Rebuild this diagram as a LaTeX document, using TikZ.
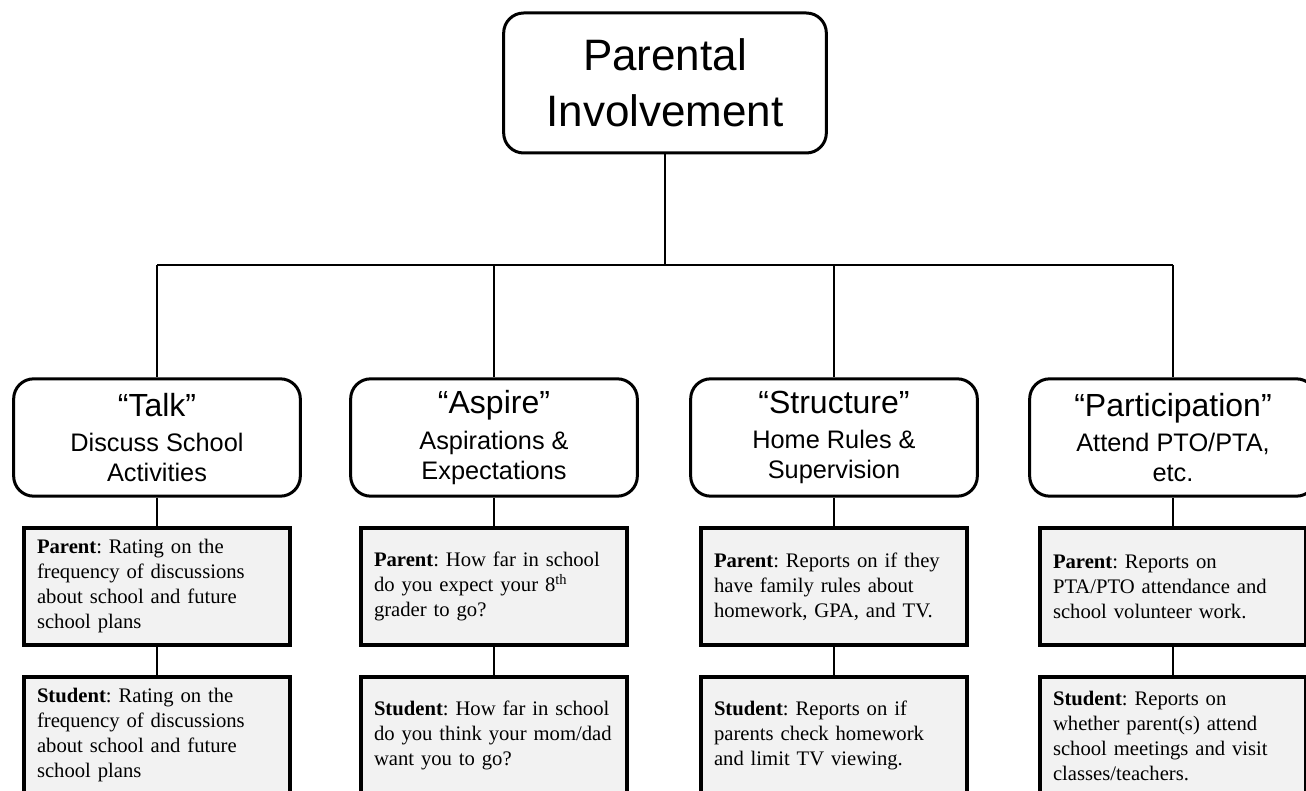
\documentclass[tikz,border=0pt]{standalone}
\usepackage{fontspec}
\setmainfont{Liberation Serif}[WordSpace=0.8]
\newfontfamily\headfont{Liberation Sans}
\definecolor{boxgray}{RGB}{242,242,242}
\frenchspacing
\tikzset{
  topbox/.style={draw, line width=2.25pt, rounded corners=15pt, minimum width=242pt, minimum height=105pt, align=center, font=\headfont\fontsize{33}{42}\selectfont},
  catbox/.style={draw, line width=2.25pt, rounded corners=15pt, minimum width=215pt, minimum height=88pt, align=center, font=\headfont\fontsize{19}{22.5}\selectfont},
  infobox/.style={draw, line width=3pt, fill=boxgray, text width=180pt, inner xsep=9.75pt, minimum height=88pt, align=left, font=\frenchspacing\fontsize{15.5}{18.75}\selectfont},
  link/.style={line width=1.5pt}
}
\newcommand{\cattitle}[1]{{\fontsize{24}{26}\selectfont #1}\\[4pt]}
\begin{document}
\begin{tikzpicture}[x=0.75pt, y=-0.75pt]
  \useasboundingbox (0,0) rectangle (1306,791);
  \clip (0,0) rectangle (1306,791);

  % Draw the top box
  \node[topbox] (top) at (665,83) {Parental\\Involvement};

  % Draw the four categories
  \node[catbox] (talk) at (157,437.5) {\cattitle{“Talk”}Discuss School\\Activities};
  \node[catbox] (aspire) at (494,437.5) {\cattitle{“Aspire”}Aspirations \&\\Expectations};
  \node[catbox] (structure) at (834,437.5) {\cattitle{“Structure”}Home Rules \&\\Supervision};
  \node[catbox] (particip) at (1173,437.5) {\cattitle{“Participation”}Attend PTO/PTA,\\etc.};

  % Parent boxes
  \node[infobox] (talkP) at (157,586.5) {\textbf{Parent}: Rating on the\\frequency of discussions\\about school and future\\school plans};
  \node[infobox] (aspireP) at (494,586.5) {\textbf{Parent}: How far in school\\do you expect your 8\textsuperscript{th}\\grader to go?};
  \node[infobox] (structureP) at (834,586.5) {\textbf{Parent}: Reports on if they\\have family rules about\\homework, GPA, and TV.};
  \node[infobox] (participP) at (1173,586.5) {\textbf{Parent}: Reports on\\PTA/PTO attendance and\\school volunteer work.};

  % Student boxes
  \node[infobox] (talkS) at (157,735.5) {\textbf{Student}: Rating on the\\frequency of discussions\\about school and future\\school plans};
  \node[infobox] (aspireS) at (494,735.5) {\textbf{Student}: How far in school\\do you think your mom/dad\\want you to go?};
  \node[infobox] (structureS) at (834,735.5) {\textbf{Student}: Reports on if\\parents check homework\\and limit TV viewing.};
  \node[infobox] (participS) at (1173,735.5) {\textbf{Student}: Reports on\\whether parent(s) attend\\school meetings and visit\\classes/teachers.};

  % Draw the bar
  \coordinate (barM) at (665,265);
  \coordinate (barA) at (157,265);
  \coordinate (barB) at (494,265);
  \coordinate (barC) at (834,265);
  \coordinate (barD) at (1173,265);
  \draw[link] (top) -- (barM);
  \draw[link] (barA) -- (barD);
  \draw[link] (barA) -- (talk);
  \draw[link] (barB) -- (aspire);
  \draw[link] (barC) -- (structure);
  \draw[link] (barD) -- (particip);

  % Connect the columns
  \draw[link] (talk) -- (talkP);
  \draw[link] (talkP) -- (talkS);
  \draw[link] (aspire) -- (aspireP);
  \draw[link] (aspireP) -- (aspireS);
  \draw[link] (structure) -- (structureP);
  \draw[link] (structureP) -- (structureS);
  \draw[link] (particip) -- (participP);
  \draw[link] (participP) -- (participS);
\end{tikzpicture}
\end{document}
